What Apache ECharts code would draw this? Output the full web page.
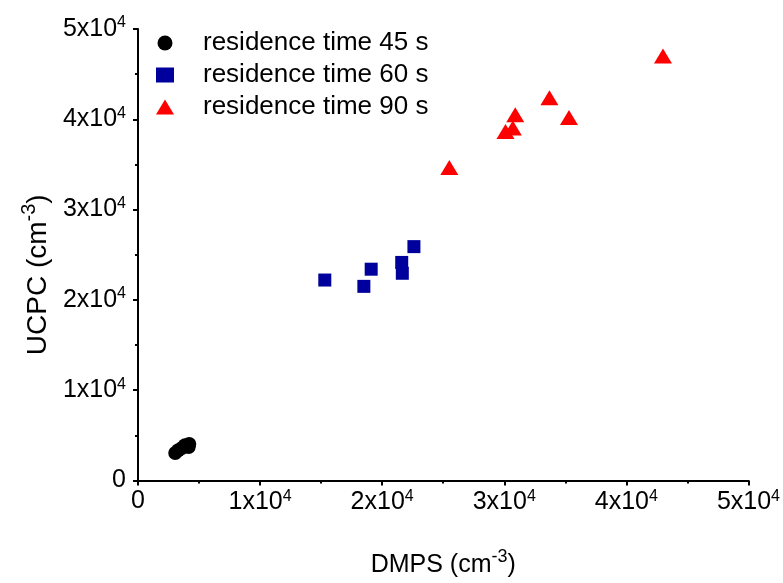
<!DOCTYPE html>
<html>
<head>
<meta charset="utf-8">
<script src="https://cdn.jsdelivr.net/npm/echarts@6/dist/echarts.min.js"></script>
<style>
  html, body { margin: 0; padding: 0; background: #fff; }
  #chart { width: 783px; height: 583px; }
</style>
</head>
<body>
<div id="chart"></div>
<script>
// DMPS vs UCPC number concentrations (cm^-3) for three residence times
const seriesNames = ['residence time 45 s', 'residence time 60 s', 'residence time 90 s'];

const dmps45 = [3050, 3300, 3600, 3850, 4200, 4150];
const ucpc45 = [3050, 3350, 3600, 3900, 4050, 3700];

const dmps60 = [15300, 18500, 19100, 21600, 21650, 22600];
const ucpc60 = [22200, 21500, 23400, 24150, 22950, 25900];

const dmps90 = [25500, 30100, 30700, 30900, 33700, 35300, 43000];
const ucpc90 = [34650, 38650, 39050, 40500, 42400, 40200, 47000];

const axisTicks = [0, 10000, 20000, 30000, 40000, 50000];

const FONT = '"Liberation Sans", Arial, sans-serif';
const pairs = (xs, ys) => xs.map((x, i) => [x, ys[i]]);

const tickRich = {
  b: { fontFamily: FONT, fontSize: 25, color: '#000' },
  s: { fontFamily: FONT, fontSize: 16, color: '#000', padding: [0, 0, 12, 0] }
};
const tickFormatter = v => (v === 0 ? '{b|0}' : '{b|' + (v / 10000) + 'x10}{s|4}');

const nameRich = size => ({
  t: { fontFamily: FONT, fontSize: size, color: '#000' },
  s: { fontFamily: FONT, fontSize: Math.round(size * 0.7), color: '#000', padding: [0, 0, Math.round(size * 0.65), 0] }
});

const axisCommon = {
  type: 'value',
  min: axisTicks[0],
  max: axisTicks[axisTicks.length - 1],
  interval: axisTicks[1] - axisTicks[0],
  splitLine: { show: false },
  axisLine: { show: true, lineStyle: { color: '#000', width: 2 } },
  axisTick: { show: true, inside: false, length: 5, lineStyle: { color: '#000', width: 2 } },
  minorTick: { show: true, splitNumber: 2, length: 3, lineStyle: { color: '#000', width: 2 } },
  nameLocation: 'middle'
};

const triangleIcon = 'path://M9,0L18,15L0,15Z';

const chart = echarts.init(document.getElementById('chart'), null, { renderer: 'canvas' });
chart.setOption({
  animation: false,
  backgroundColor: '#fff',
  grid: { left: 138, right: 32, top: 29, bottom: 100, containLabel: false },
  legend: {
    orient: 'vertical',
    left: 151,
    top: 25,
    itemWidth: 18,
    itemHeight: 15,
    itemGap: 6,
    data: [
      { name: seriesNames[0], icon: 'circle' },
      { name: seriesNames[1], icon: 'rect' },
      { name: seriesNames[2], icon: triangleIcon }
    ],
    textStyle: { fontFamily: FONT, fontSize: 26, color: '#000', padding: [0, 0, 0, 24] }
  },
  xAxis: Object.assign({}, axisCommon, {
    name: '{t|DMPS (cm}{s|-3}{t|)}',
    nameGap: 68,
    nameTextStyle: { rich: nameRich(25) },
    axisLabel: { margin: 8, formatter: tickFormatter, rich: tickRich }
  }),
  yAxis: Object.assign({}, axisCommon, {
    name: '{t|UCPC (cm}{s|-3}{t|)}',
    nameGap: 72,
    nameTextStyle: { rich: nameRich(28), padding: [0, 40, 0, 0] },
    axisLabel: { margin: 12, formatter: tickFormatter, rich: tickRich }
  }),
  series: [
    {
      name: seriesNames[0],
      type: 'scatter',
      symbol: 'circle',
      symbolSize: 14,
      itemStyle: { color: '#000000', opacity: 1 },
      data: pairs(dmps45, ucpc45)
    },
    {
      name: seriesNames[1],
      type: 'scatter',
      symbol: 'rect',
      symbolSize: 13,
      itemStyle: { color: '#00009c', opacity: 1 },
      data: pairs(dmps60, ucpc60)
    },
    {
      name: seriesNames[2],
      type: 'scatter',
      symbol: 'triangle',
      symbolSize: [18, 15],
      itemStyle: { color: '#ff0000', opacity: 1 },
      data: pairs(dmps90, ucpc90)
    }
  ]
});
</script>
</body>
</html>
